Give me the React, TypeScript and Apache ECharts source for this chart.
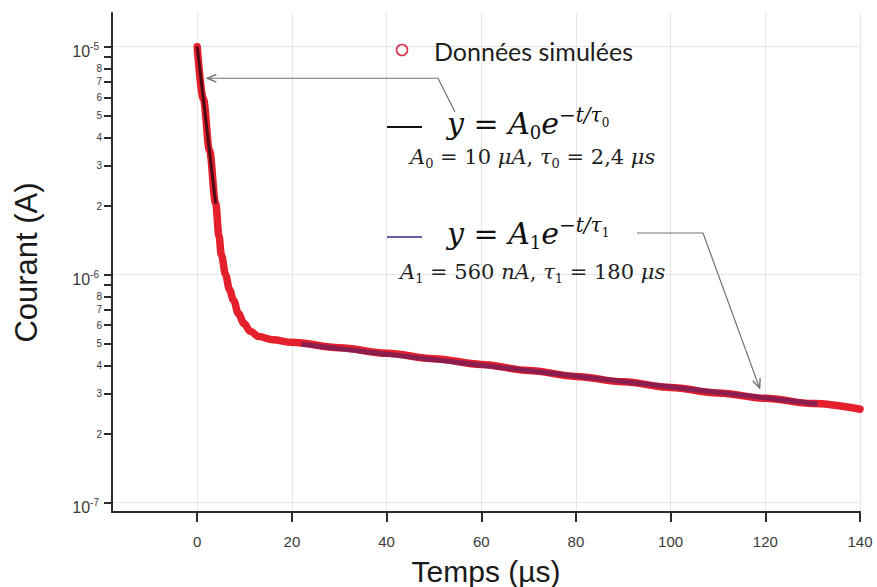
import React, { useEffect, useRef } from 'react';
import * as echarts from 'echarts';

// ---------- data ----------
const simT = [0, 1.3, 2.6, 3.9, 4.6, 5.1, 6.0, 6.8, 7.7, 8.7, 9.9, 11.2, 13, 16, 20, 30, 40, 50, 60, 70, 80, 90, 100, 110, 120, 130, 140];
const simI = [1.0e-5, 5.9e-6, 3.5e-6, 2.05e-6, 1.48e-6, 1.22e-6, 1.0e-6, 8.6e-7, 7.7e-7, 6.75e-7, 6.1e-7, 5.65e-7, 5.35e-7, 5.18e-7, 5.05e-7, 4.78e-7, 4.52e-7, 4.28e-7, 4.04e-7, 3.8e-7, 3.58e-7, 3.39e-7, 3.2e-7, 3.03e-7, 2.87e-7, 2.72e-7, 2.57e-7];

const fit0T = [0, 3.9];
const fit0I = [1.0e-5, 2.05e-6];
const fit1T = [22, 131];
const fit1I = [4.95e-7, 2.71e-7];

const xTickValues = [0, 20, 40, 60, 80, 100, 120, 140];
const yTickValues = [
  1e-7, 2e-7, 3e-7, 4e-7, 5e-7, 6e-7, 7e-7, 8e-7, 9e-7,
  1e-6, 2e-6, 3e-6, 4e-6, 5e-6, 6e-6, 7e-6, 8e-6, 9e-6,
  1e-5,
];
const yTickLabels = [
  '10^-7', '2', '3', '4', '5', '6', '7', '8', '',
  '10^-6', '2', '3', '4', '5', '6', '7', '8', '',
  '10^-5',
];
const yMajorValues = [1e-7, 1e-6, 1e-5];
const yMinorValues = yTickValues.filter((v) => yMajorValues.indexOf(v) < 0);

const simName = 'Données simulées';
const xTitle = 'Temps (µs)';
const yTitle = 'Courant (A)';

// annotation anchors (data coordinates of the arrow tips)
const arrowTipA = [2.1, 7.27e-6];
const arrowTipB = [118.8, 3.18e-7];

// ---------- styling ----------
const axisColor = '#2b2b2b';
const gridColor = '#e6e6e6';
const labelColor = '#3a3a3a';
const mathFont = 'DejaVu Serif';
const sansFont = 'Liberation Sans';

function yLabelFormatter(v: number): string {
  const j = yTickValues.findIndex((t) => Math.abs(Math.log10(v / t)) < 1e-6);
  if (j < 0) return '';
  const lab = yTickLabels[j];
  if (!lab) return '';
  if (lab.indexOf('^') >= 0) {
    const [b, e] = lab.split('^');
    return `{b|${b}}{s|${e}}`;
  }
  return `{m|${lab}}`;
}

const yRich = {
  b: { fontFamily: sansFont, fontSize: 16, lineHeight: 16, verticalAlign: 'bottom', color: labelColor },
  s: { fontFamily: sansFont, fontSize: 10, lineHeight: 26, verticalAlign: 'middle', color: labelColor },
  m: { fontFamily: sansFont, fontSize: 10, lineHeight: 12, color: labelColor },
};

function arrowHead(tip: number[], from: number[], color: string) {
  const dx = tip[0] - from[0];
  const dy = tip[1] - from[1];
  const L = Math.hypot(dx, dy) || 1;
  const bx = -dx / L;
  const by = -dy / L;
  const len = 10;
  const a = 0.4;
  const p1 = [tip[0] + len * (bx * Math.cos(a) - by * Math.sin(a)), tip[1] + len * (bx * Math.sin(a) + by * Math.cos(a))];
  const p2 = [tip[0] + len * (bx * Math.cos(-a) - by * Math.sin(-a)), tip[1] + len * (bx * Math.sin(-a) + by * Math.cos(-a))];
  return {
    type: 'polyline',
    shape: { points: [p1, tip, p2] },
    style: { stroke: color, lineWidth: 1.4, fill: 'none' },
    silent: true,
  };
}

function bigRich() {
  const base = { fontFamily: mathFont, fontSize: 30, lineHeight: 36, verticalAlign: 'middle', fill: '#111' };
  return {
    i: { ...base, fontStyle: 'italic' },
    r: { ...base },
    sb: { fontFamily: mathFont, fontSize: 18, lineHeight: 18, verticalAlign: 'bottom', fill: '#111' },
    sp: { fontFamily: mathFont, fontStyle: 'italic', fontSize: 20, lineHeight: 20, verticalAlign: 'top', fill: '#111' },
    ss: { fontFamily: mathFont, fontSize: 12, lineHeight: 12, verticalAlign: 'middle', fill: '#111' },
  };
}

function smallRich() {
  const base = { fontFamily: mathFont, fontSize: 21, lineHeight: 26, verticalAlign: 'middle', fill: '#222' };
  return {
    i: { ...base, fontStyle: 'italic' },
    r: { ...base },
    sb: { fontFamily: mathFont, fontSize: 13, lineHeight: 13, verticalAlign: 'bottom', fill: '#222' },
  };
}

function textEl(x: number, y: number, text: string, rich: any) {
  return {
    type: 'text',
    x,
    y,
    silent: true,
    style: {
      text,
      rich,
      textAlign: 'left',
      textVerticalAlign: 'middle',
      align: 'left',
      verticalAlign: 'middle',
    },
  };
}

function buildGraphic(tipA: number[], tipB: number[]) {
  const arrowColor = '#707070';
  const elbowA = [438, tipA[1]];
  const elbowB = [703, 233];
  return [
    // legend: simulated data
    {
      type: 'circle',
      shape: { cx: 402, cy: 50, r: 5.5 },
      style: { stroke: '#d8324f', lineWidth: 1.6, fill: 'none' },
      silent: true,
    },
    {
      type: 'text',
      x: 434,
      y: 51,
      silent: true,
      style: {
        text: simName,
        fontFamily: 'Lato',
        fontSize: 25,
        fill: '#1e1e1e',
        textAlign: 'left',
        textVerticalAlign: 'middle',
        align: 'left',
        verticalAlign: 'middle',
      },
    },
    // legend: fit 0
    { type: 'line', shape: { x1: 387, y1: 127, x2: 422, y2: 127 }, style: { stroke: '#111', lineWidth: 2.2 }, silent: true },
    textEl(447, 123, '{i|y}{r| = }{i|A}{sb|0}{i|e}{sp|−t/τ}{ss|0}', bigRich()),
    textEl(410, 157, '{i|A}{sb|0}{r| = 10 }{i|μA}{r|, }{i|τ}{sb|0}{r| = 2,4 }{i|μs}', smallRich()),
    // legend: fit 1
    { type: 'line', shape: { x1: 387, y1: 237, x2: 422, y2: 237 }, style: { stroke: '#6b5aa6', lineWidth: 2.2 }, silent: true },
    textEl(447, 233, '{i|y}{r| = }{i|A}{sb|1}{i|e}{sp|−t/τ}{ss|1}', bigRich()),
    textEl(400, 272, '{i|A}{sb|1}{r| = 560 }{i|nA}{r|, }{i|τ}{sb|1}{r| = 180 }{i|μs}', smallRich()),
    // arrows
    {
      type: 'polyline',
      shape: { points: [[455, 112], elbowA, tipA] },
      style: { stroke: arrowColor, lineWidth: 1.2, fill: 'none' },
      silent: true,
    },
    arrowHead(tipA, elbowA, arrowColor),
    {
      type: 'polyline',
      shape: { points: [[637, 233], elbowB, tipB] },
      style: { stroke: arrowColor, lineWidth: 1.2, fill: 'none' },
      silent: true,
    },
    arrowHead(tipB, elbowB, arrowColor),
  ];
}

const yMin = 9.1e-8;
const yMax = 1.405e-5;

const option: any = {
  animation: false,
  backgroundColor: '#ffffff',
  textStyle: { fontFamily: sansFont },
  grid: { left: 112, right: 17, top: 13, bottom: 75, containLabel: false, outerBoundsMode: 'none' },
  xAxis: {
    type: 'value',
    min: -18,
    max: 140,
    name: xTitle,
    nameLocation: 'middle',
    nameGap: 44,
    nameTextStyle: { fontFamily: sansFont, fontSize: 30, color: '#1a1a1a' },
    axisLine: { show: true, onZero: false, lineStyle: { color: axisColor, width: 2 } },
    axisTick: { show: true, length: 10, customValues: xTickValues, lineStyle: { color: axisColor, width: 2 } },
    axisLabel: { customValues: xTickValues, margin: 22, fontFamily: sansFont, fontSize: 15, color: labelColor },
    splitLine: { show: true, lineStyle: { color: gridColor, width: 1 } },
  },
  yAxis: [
    {
      type: 'log',
      logBase: 10,
      min: yMin,
      max: yMax,
      name: yTitle,
      nameLocation: 'middle',
      nameGap: 70,
      nameRotate: 90,
      nameTextStyle: { fontFamily: sansFont, fontSize: 31, color: '#1a1a1a' },
      axisLine: { show: true, onZero: false, lineStyle: { color: axisColor, width: 2 } },
      axisTick: { show: true, length: 8, customValues: yTickValues, lineStyle: { color: axisColor, width: 2 } },
      axisLabel: {
        customValues: yMinorValues,
        margin: 10,
        formatter: yLabelFormatter,
        color: labelColor,
        rich: yRich,
      },
      splitLine: { show: false },
    },
    {
      type: 'log',
      logBase: 10,
      min: yMin,
      max: yMax,
      position: 'left',
      axisLine: { show: false },
      axisTick: { show: false, customValues: yMajorValues },
      axisLabel: {
        show: true,
        customValues: yMajorValues,
        margin: 13,
        formatter: yLabelFormatter,
        color: labelColor,
        rich: yRich,
      },
      splitLine: { show: true, lineStyle: { color: gridColor, width: 1 } },
    },
  ],
  series: [
    {
      type: 'line',
      name: simName,
      data: simT.map((t, i) => [t, simI[i]]),
      symbol: 'none',
      smooth: 0.35,
      smoothMonotone: 'x',
      lineStyle: { color: '#e3202b', width: 7.5, cap: 'round', join: 'round' },
      z: 2,
    },
    {
      type: 'line',
      name: 'fit0',
      data: fit0T.map((t, i) => [t, fit0I[i]]),
      symbol: 'none',
      lineStyle: { color: 'rgba(40,5,15,0.8)', width: 3 },
      z: 3,
    },
    {
      type: 'line',
      name: 'fit1',
      data: fit1T.map((t, i) => [t, fit1I[i]]),
      symbol: 'none',
      lineStyle: { color: 'rgba(70,30,110,0.55)', width: 5 },
      z: 3,
    },
  ],
};

export default function App() {
  const ref = useRef<HTMLDivElement>(null);
  useEffect(() => {
    if (!ref.current) return;
    const chart = echarts.init(ref.current, null, { renderer: 'svg' });
    chart.setOption(option);
    const tipA = chart.convertToPixel({ seriesIndex: 0 }, arrowTipA) as number[];
    const tipB = chart.convertToPixel({ seriesIndex: 0 }, arrowTipB) as number[];
    chart.setOption({ graphic: { elements: buildGraphic(tipA, tipB) } });
    return () => chart.dispose();
  }, []);
  return (
    <div
      ref={ref}
      style={{ position: 'fixed', left: 0, top: 0, width: 877, height: 587, background: '#fff' }}
    />
  );
}
